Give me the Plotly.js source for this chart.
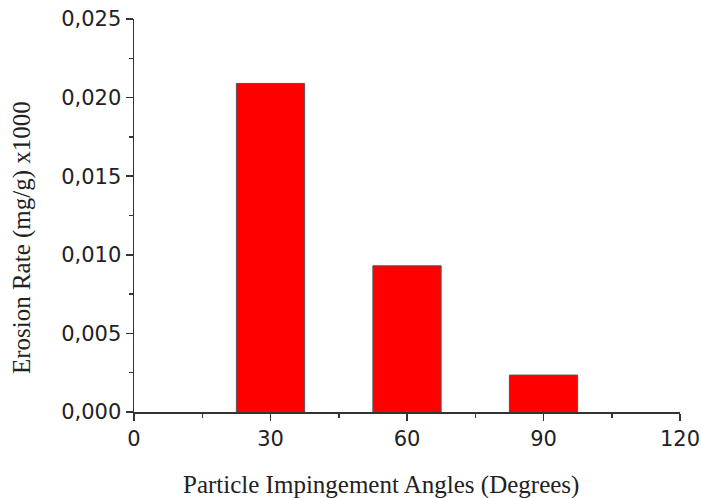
<!DOCTYPE html>
<html>
<head>
<meta charset="utf-8">
<script src="https://cdn.plot.ly/plotly-3.0.1.min.js"></script>
<style>html,body{margin:0;padding:0;background:#fff;}#chart{width:702px;height:498px;}</style>
</head>
<body>
<div id="chart"></div>
<script>
const angles = [30, 60, 90];
const erosionRates = [0.0209, 0.0093, 0.00235];
const xTickVals = [0, 30, 60, 90, 120];
const yTickVals = [0, 0.005, 0.01, 0.015, 0.02, 0.025];
const xTitle = 'Particle Impingement Angles (Degrees)';
const yTitle = 'Erosion Rate (mg/g) x1000';

const titleFont = {family: 'Liberation Serif, Times New Roman, serif', size: 25, color: '#222'};

const trace = {
  type: 'bar',
  x: angles,
  y: erosionRates,
  width: 15,
  marker: {color: '#ff0000', line: {color: '#555555', width: 1}},
  hoverinfo: 'none'
};

const layout = {
  width: 702, height: 498,
  margin: {l: 134, r: 22, t: 19, b: 86},
  paper_bgcolor: '#ffffff', plot_bgcolor: '#ffffff',
  separators: ',.',
  showlegend: false,
  xaxis: {
    range: [0, 120],
    tickvals: xTickVals,
    ticks: 'outside', ticklen: 7, tickwidth: 1.5, tickcolor: '#333',
    showline: true, linecolor: '#333', linewidth: 1.5,
    showgrid: false, zeroline: false,
    minor: {ticks: 'outside', ticklen: 4, tickwidth: 1.5, tickcolor: '#333', dtick: 15, tick0: 0, showgrid: false},
    tickfont: {family: 'DejaVu Sans, Arial, sans-serif', size: 21, color: '#222'}
  },
  yaxis: {
    range: [0, 0.025],
    tickvals: yTickVals,
    tickformat: '.3f',
    ticks: 'outside', ticklen: 7, tickwidth: 1.5, tickcolor: '#333',
    showline: true, linecolor: '#333', linewidth: 1.5,
    showgrid: false, zeroline: false,
    minor: {ticks: 'outside', ticklen: 4, tickwidth: 1.5, tickcolor: '#333', dtick: 0.0025, tick0: 0, showgrid: false},
    tickfont: {family: 'DejaVu Sans, Arial, sans-serif', size: 21, color: '#222'}
  },
  annotations: [
    {text: xTitle, xref: 'paper', yref: 'paper', x: 0.4524, y: -0.186, xanchor: 'center', yanchor: 'middle', showarrow: false, font: titleFont},
    {text: yTitle, xref: 'paper', yref: 'paper', x: -0.205, y: 0.4427, xanchor: 'center', yanchor: 'middle', textangle: -90, showarrow: false, font: titleFont}
  ]
};

Plotly.newPlot('chart', [trace], layout, {displayModeBar: false, staticPlot: true});
</script>
</body>
</html>
